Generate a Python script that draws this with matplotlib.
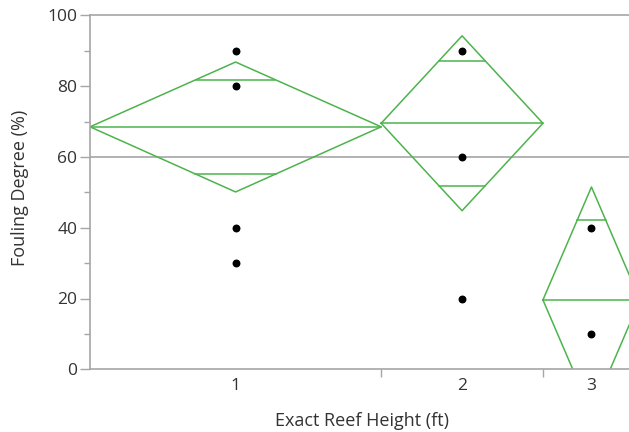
import numpy as np
import matplotlib.pyplot as plt

# group data
groups = ["1", "2", "3"]
counts = [9, 5, 3]
means = [68.5, 69.5, 19.6]
ci_upper = [86.8, 94.2, 51.5]
ci_lower = [50.1, 44.8, -12.3]
overlap_hi = [81.8, 87.1, 42.2]
overlap_lo = [55.2, 51.9, -3.0]
grand_mean = 60.0

pts_group = ["1", "1", "1", "1", "2", "2", "2", "3", "3"]
pts_value = [90, 80, 40, 30, 90, 60, 20, 40, 10]

green = "#4db34d"
grey = "#a6a6a6"
txt = "#333333"

plt.rcParams['font.family'] = ['Open Sans', 'DejaVu Sans']

fig = plt.figure(figsize=(6.29, 4.32), dpi=100)
ax = fig.add_axes([90 / 629, 62.7 / 432, 550 / 629, 354 / 432])

edges = np.concatenate([[0], np.cumsum(counts)])
mids = (edges[:-1] + edges[1:]) / 2

ax.axhline(grand_mean, color=grey, lw=1.2, zorder=1)

for i in range(len(groups)):
    l, r, m = edges[i], edges[i + 1], mids[i]
    hw = (r - l) / 2
    xs = [l, m, r, m, l]
    ys = [means[i], ci_upper[i], means[i], ci_lower[i], means[i]]
    ax.plot(xs, ys, color=green, lw=1.1, zorder=2)
    ax.plot([l, r], [means[i], means[i]], color=green, lw=1.1, zorder=2)
    for yv in (overlap_hi[i], overlap_lo[i]):
        half = hw * (ci_upper[i] - yv) / (ci_upper[i] - means[i]) if yv > means[i] \
            else hw * (yv - ci_lower[i]) / (means[i] - ci_lower[i])
        ax.plot([m - half, m + half], [yv, yv], color=green, lw=1.1, zorder=2)

px = [mids[groups.index(g)] for g in pts_group]
ax.scatter(px, pts_value, s=22, color="black", zorder=3)

ax.set_xlim(0, edges[-1])
ax.set_ylim(0, 100)

ax.set_yticks([0, 20, 40, 60, 80, 100])
ax.set_yticks([10, 30, 50, 70, 90], minor=True)
ax.set_xticks(edges[1:-1])
ax.set_xticklabels([])
ax.set_xticks(mids, minor=True)
ax.set_xticklabels(groups, minor=True)

ax.tick_params(axis='y', which='major', length=7, width=1, color=grey,
               labelsize=12.5, labelcolor=txt, pad=2)
ax.tick_params(axis='y', which='minor', length=4, width=1, color=grey)
ax.tick_params(axis='x', which='major', length=6, width=1, color=grey)
ax.tick_params(axis='x', which='minor', length=0, labelsize=12.5,
               labelcolor=txt, pad=6)

for s in ax.spines.values():
    s.set_color(grey)
    s.set_linewidth(1.2)
ax.spines['right'].set_visible(False)

fig.text(20 / 629, 1 - 188 / 432, "Fouling Degree (%)", rotation=90,
         ha='center', va='center', fontsize=13, color=txt)
fig.text(362 / 629, 1 - 421 / 432, "Exact Reef Height (ft)",
         ha='center', va='center', fontsize=13, color=txt)

fig.savefig("out.png", dpi=100)
